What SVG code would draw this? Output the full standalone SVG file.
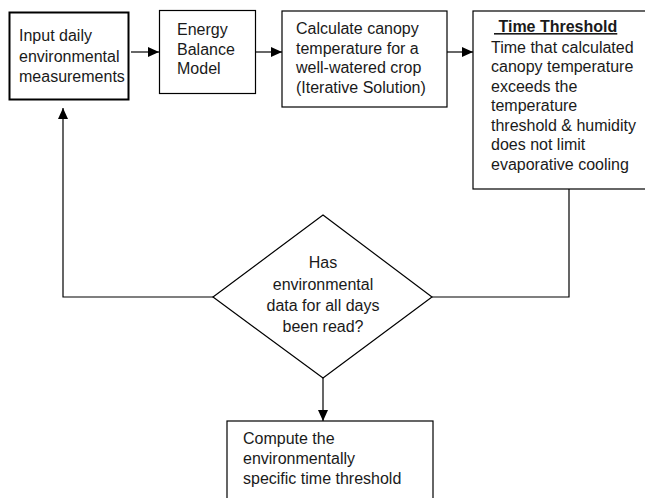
<svg xmlns="http://www.w3.org/2000/svg" width="645" height="498" viewBox="0 0 645 498">
<defs>
<style>
.box{fill:#fff;stroke:#000;stroke-width:1.2}
.thick{stroke-width:2}
.t{font-family:"Liberation Sans",Arial,sans-serif;font-size:16px;fill:#1a1a1a}
.b{font-weight:bold;text-decoration:underline}
.c{text-anchor:middle}
.ln{fill:none;stroke:#000;stroke-width:1.2}
</style>
<marker id="ah" viewBox="0 0 11 10" refX="11" refY="5" markerWidth="11" markerHeight="10" markerUnits="userSpaceOnUse" orient="auto">
<path d="M0,0 L11,5 L0,10 Z" fill="#000"/>
</marker>
</defs>
<rect width="645" height="498" fill="#fff"/>
<g id="connectors">
<line class="ln" x1="131" y1="52" x2="159" y2="52" marker-end="url(#ah)"/>
<line class="ln" x1="255" y1="52" x2="282" y2="52" marker-end="url(#ah)"/>
<line class="ln" x1="447" y1="52" x2="473" y2="52" marker-end="url(#ah)"/>
<polyline class="ln" points="569,189 569,297 432,297"/>
<polyline class="ln" points="213,297 63,297 63,108" marker-end="url(#ah)"/>
<line class="ln" x1="323" y1="378" x2="323" y2="421" marker-end="url(#ah)"/>
</g>
<g id="input">
<rect class="box thick" x="9.5" y="12.5" width="119" height="87"/>
<text class="t" x="19" y="41">Input daily</text>
<text class="t" x="19" y="61.5">environmental</text>
<text class="t" x="19" y="82">measurements</text>
</g>
<g id="energy">
<rect class="box" x="159.5" y="10.5" width="96" height="83"/>
<text class="t" x="177" y="35">Energy</text>
<text class="t" x="177" y="54.5">Balance</text>
<text class="t" x="177" y="74">Model</text>
</g>
<g id="calculate">
<rect class="box" x="282" y="11" width="165" height="96"/>
<text class="t" x="296" y="34">Calculate canopy</text>
<text class="t" x="296" y="53.5">temperature for a</text>
<text class="t" x="296" y="73">well-watered crop</text>
<text class="t" x="296" y="92.5">(Iterative Solution)</text>
</g>
<g id="threshold">
<rect class="box" x="473" y="11" width="180" height="178"/>
<text class="t b" x="494" y="32">&#160;Time Threshold</text>
<text class="t" x="491" y="52.5">Time that calculated</text>
<text class="t" x="491" y="72">canopy temperature</text>
<text class="t" x="491" y="91.5">exceeds the</text>
<text class="t" x="491" y="111">temperature</text>
<text class="t" x="491" y="130.5">threshold &amp; humidity</text>
<text class="t" x="491" y="150">does not limit</text>
<text class="t" x="491" y="169.5">evaporative cooling</text>
</g>
<g id="decision">
<polygon class="box" points="323,215 432,297 323,378 213,297"/>
<text class="t c" x="323" y="268">Has</text>
<text class="t c" x="323" y="290">environmental</text>
<text class="t c" x="323" y="311">data for all days</text>
<text class="t c" x="323" y="332">been read?</text>
</g>
<g id="compute">
<rect class="box" x="227" y="421" width="206" height="90"/>
<text class="t" x="243" y="444">Compute the</text>
<text class="t" x="243" y="464">environmentally</text>
<text class="t" x="243" y="484">specific time threshold</text>
</g>
</svg>
